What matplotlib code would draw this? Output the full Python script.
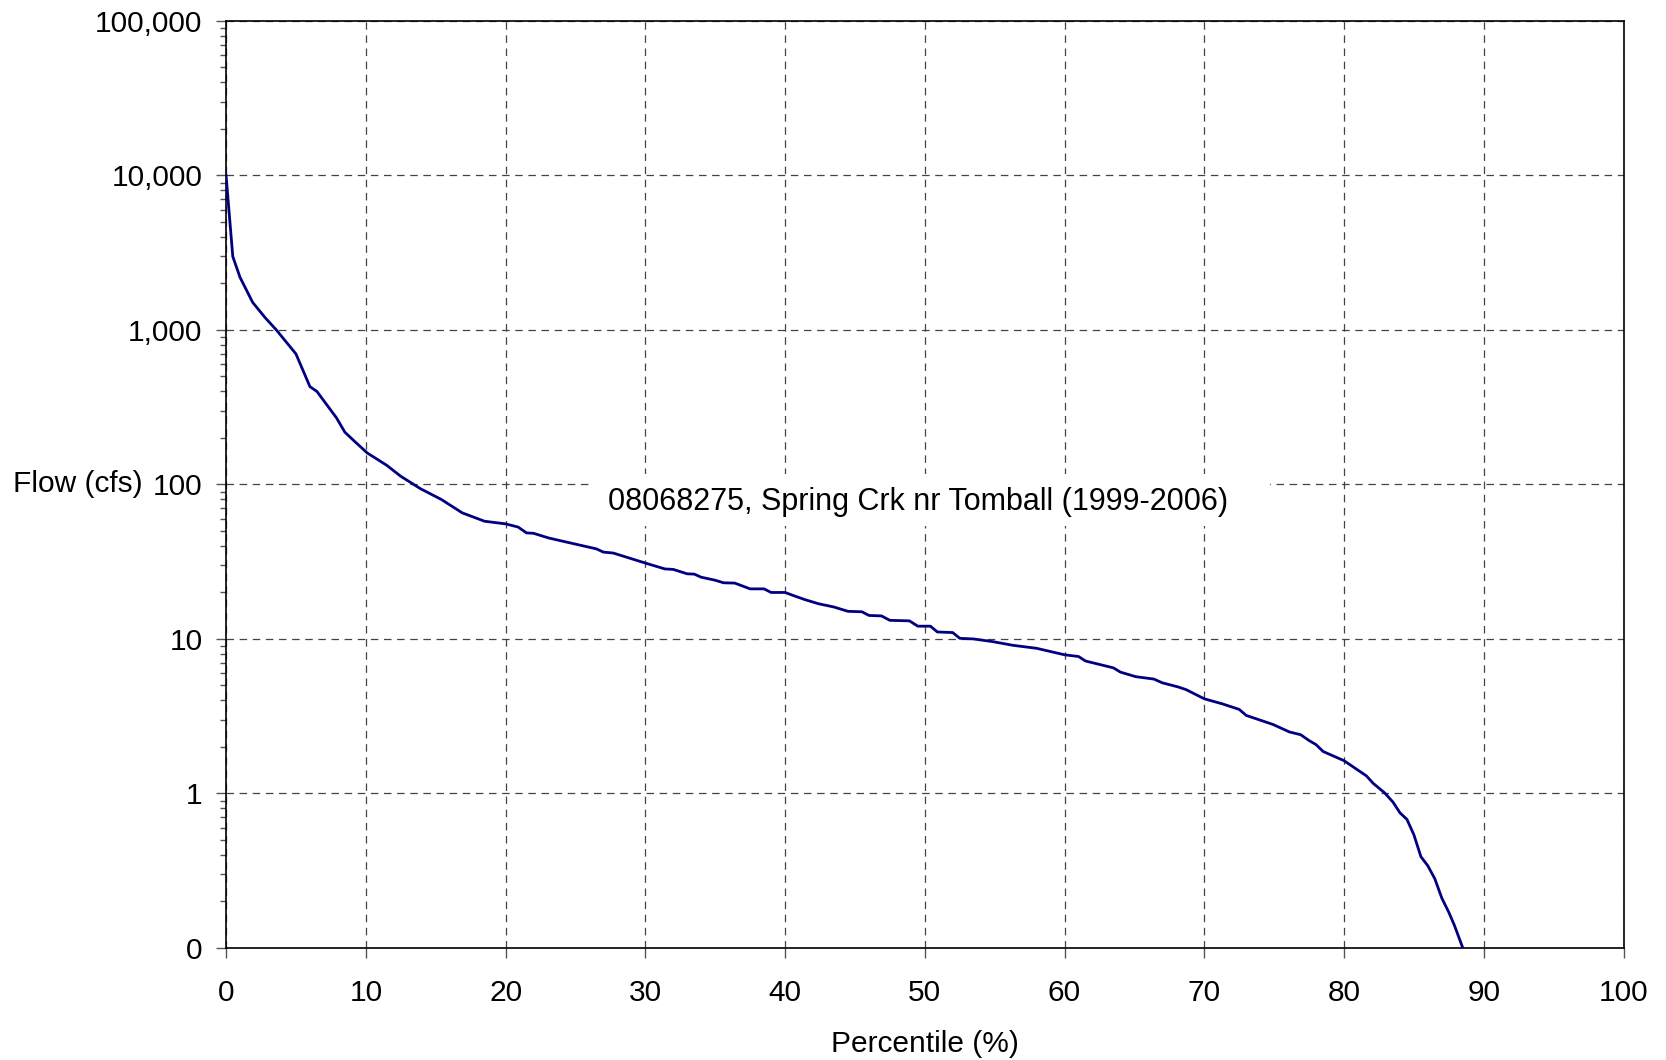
import matplotlib
matplotlib.use('Agg')
import matplotlib.pyplot as plt
from matplotlib.ticker import FixedLocator, LogLocator, NullFormatter, NullLocator
from matplotlib.patches import Rectangle

plt.rcParams['font.family'] = ['Liberation Sans', 'DejaVu Sans']

# flow duration curve
pct = [0, 0.48, 1.0, 1.9, 2.8, 3.6, 5.0, 6.0, 6.5, 7.9,
       8.5, 9.2, 10.1, 11.5, 12.5, 13.9, 15.4, 16.9, 18.5, 20,
       20.9, 21.5, 22.0, 23.1, 24.8, 26.5, 27.0, 27.7, 30, 31.4,
       32, 33, 33.5, 34, 35, 35.6, 36.4, 37.5, 38.5, 39,
       40, 40.6, 41.4, 42.4, 43.5, 44.5, 45.5, 46.0, 46.9, 47.5,
       48.9, 49.5, 50.4, 50.9, 52.0, 52.5, 53.5, 54.9, 56.3, 58.0,
       60, 61.0, 61.5, 63.5, 64.0, 65.1, 66.4, 67.0, 68.1, 68.7,
       70, 71.3, 72.5, 73.0, 74.9, 76.1, 76.9, 77.5, 78.0, 78.5,
       80, 81.6, 82.1, 82.9, 83.5, 84.0, 84.5, 85.0, 85.5, 86.0,
       86.5, 87.0, 87.5, 87.9, 88.5]
flow = [10000, 2990, 2190, 1510, 1200, 1000, 700, 430, 400, 270,
        218, 190, 160, 133, 113, 94, 80, 65.5, 57.8, 55.6,
        53, 48.6, 48.3, 45, 41.5, 38.3, 36.5, 36, 31, 28.4,
        28.2, 26.4, 26.3, 25.1, 24.0, 23.1, 23, 21.1, 21.1, 20.0,
        20, 19.1, 18.0, 16.9, 16.1, 15.1, 15.0, 14.2, 14.1, 13.2,
        13.1, 12.1, 12.1, 11.1, 11.0, 10.1, 10, 9.6, 9.1, 8.7,
        7.9, 7.7, 7.2, 6.5, 6.1, 5.7, 5.5, 5.2, 4.9, 4.7,
        4.1, 3.8, 3.5, 3.2, 2.8, 2.5, 2.4, 2.2, 2.07, 1.87,
        1.63, 1.30, 1.16, 1.01, 0.88, 0.75, 0.68, 0.54, 0.39, 0.34,
        0.28, 0.21, 0.17, 0.14, 0.1]
assert len(pct) == len(flow)

y_ticks = [0.1, 1, 10, 100, 1000, 10000, 100000]
y_labels = ['0', '1', '10', '100', '1,000', '10,000', '100,000']
x_ticks = [0, 10, 20, 30, 40, 50, 60, 70, 80, 90, 100]
title = '08068275, Spring Crk nr Tomball (1999-2006)'

fig = plt.figure(figsize=(16.66, 10.60), dpi=100)
ax = fig.add_axes([0.1357, 0.1057, 0.8388, 0.8745])

ax.plot(pct, flow, color='#000080', lw=2.0, zorder=4)

ax.set_yscale('log')
ax.set_ylim(0.1, 100000)
ax.set_xlim(0, 100)

ax.yaxis.set_major_locator(FixedLocator(y_ticks))
ax.set_yticklabels(y_labels)
ax.yaxis.set_minor_locator(LogLocator(base=10, subs=range(2, 10)))
ax.yaxis.set_minor_formatter(NullFormatter())
ax.set_xticks(x_ticks)
ax.set_xticklabels([str(t) for t in x_ticks])
ax.xaxis.set_minor_locator(NullLocator())

ax.grid(True, which='major', color='#444444', lw=0.9, ls=(0, (6, 4.5)), zorder=1)
ax.set_axisbelow(True)

ax.tick_params(axis='both', which='major', direction='out', length=7,
               width=1, color='#555555', labelsize=21.5)
ax.tick_params(axis='x', pad=15)
ax.tick_params(axis='y', pad=10)
ax.tick_params(axis='y', which='minor', direction='out', length=4.5,
               width=1, color='#555555')

for s in ax.spines.values():
    s.set_color('black')
    s.set_linewidth(1.2)

ax.set_xlabel('Percentile (%)', fontsize=21.5, labelpad=17)
ax.set_ylabel('Flow (cfs)', fontsize=21.5, rotation=0, ha='right', va='center')
ax.yaxis.set_label_coords(-0.0594, 0.5)

# white box behind the caption, hides the grid
ax.add_patch(Rectangle((0.2606, 0.455), 0.4867, 0.056, transform=ax.transAxes,
                       facecolor='white', edgecolor='none', zorder=2))
ax.text(0.2731, 0.472, title, transform=ax.transAxes, fontsize=22,
        ha='left', va='baseline', zorder=3)

fig.savefig('out.png', dpi=100)
